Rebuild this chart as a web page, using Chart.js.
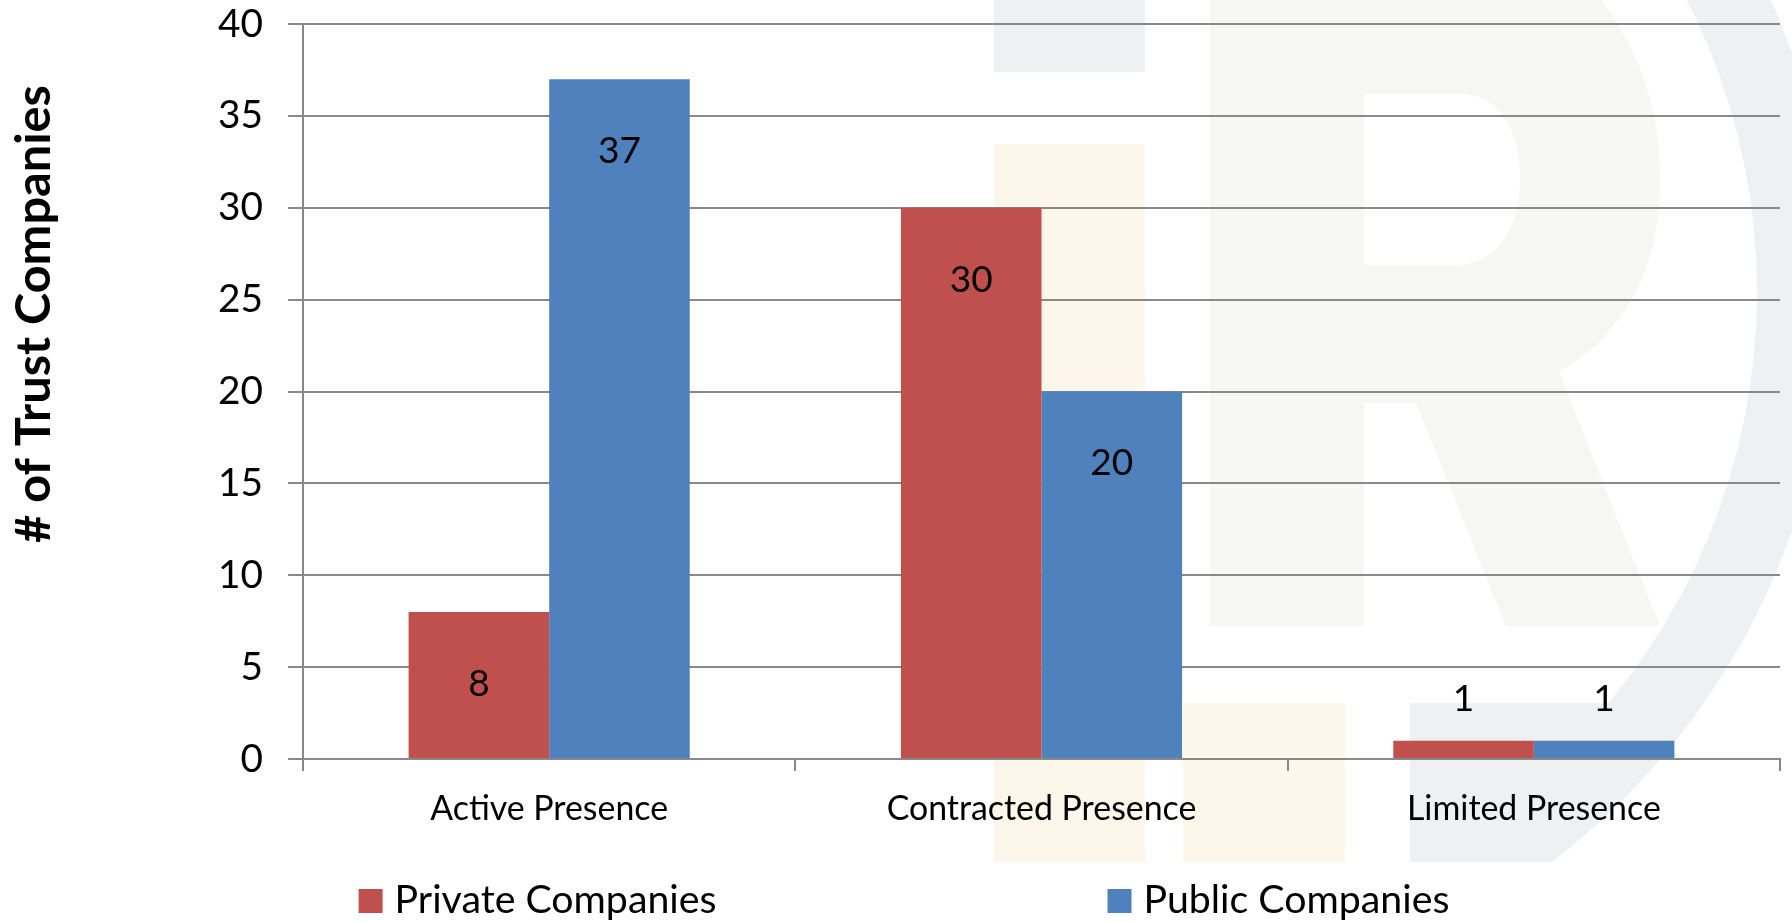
<!DOCTYPE html>
<html><head><meta charset="utf-8">
<script src="https://cdn.jsdelivr.net/npm/chart.js@4/dist/chart.umd.min.js"></script>
<style>html,body{margin:0;padding:0;background:#fff;} canvas{display:block;}</style>
</head><body>
<canvas id="c" width="1792" height="922"></canvas>
<script>
// ---- data ----
const categories = ['Active Presence', 'Contracted Presence', 'Limited Presence'];
const privateCompanies = [8, 30, 1];
const publicCompanies = [37, 20, 1];
const seriesNames = ['Private Companies', 'Public Companies'];
const yTickValues = [0, 5, 10, 15, 20, 25, 30, 35, 40];
const yTitle = '# of Trust Companies';

// ---- styles ----
const FAMILY = 'Lato, "Open Sans", sans-serif';
const RED = '#C0504D', BLUE = '#4F81BD', GRID = '#898989';
const mctx = document.createElement('canvas').getContext('2d');
function fit(text, target, weight) {
  mctx.font = (weight || 'normal') + ' 100px ' + FAMILY;
  return 100 * target / mctx.measureText(text).width;
}
const tickSize = fit('40', 45);
const catSize = fit('Active Presence', 238);
const legendSize = fit('Private Companies', 322);
const titleSize = fit(yTitle, 458, 'bold');
const valueSize = fit('37', 43);

const watermark = {
  id: 'watermark',
  beforeDraw(chart) {
    const ctx = chart.ctx;
    ctx.save();
    ctx.fillStyle = '#ffffff';
    ctx.fillRect(0, 0, chart.width, chart.height);
    // R letter
    ctx.fillStyle = '#f6f6f5';
    ctx.beginPath();
    ctx.moveTo(1210, 0); ctx.lineTo(1602, 0);
    ctx.bezierCurveTo(1645, 60, 1662, 120, 1660, 190);
    ctx.bezierCurveTo(1658, 280, 1615, 340, 1559, 372);
    ctx.lineTo(1660, 626); ctx.lineTo(1506, 626); ctx.lineTo(1416, 403);
    ctx.lineTo(1364, 403); ctx.lineTo(1364, 626); ctx.lineTo(1210, 626); ctx.closePath();
    ctx.moveTo(1364, 94); ctx.lineTo(1460, 94);
    ctx.bezierCurveTo(1500, 94, 1520, 130, 1520, 178);
    ctx.bezierCurveTo(1520, 230, 1495, 265, 1455, 265);
    ctx.lineTo(1364, 265); ctx.closePath();
    ctx.fill('evenodd');
    // gray ring
    ctx.fillStyle = '#eff0f2';
    ctx.save();
    ctx.beginPath(); ctx.rect(1400, 0, 400, 862); ctx.clip();
    ctx.beginPath();
    ctx.arc(1115, 292, 718, 0, Math.PI * 2, false);
    ctx.arc(1115, 292, 642, 0, Math.PI * 2, true);
    ctx.fill();
    ctx.restore();
    ctx.save();
    ctx.beginPath(); ctx.rect(1410, 703, 400, 159); ctx.clip();
    ctx.beginPath(); ctx.arc(1115, 292, 718, 0, Math.PI * 2); ctx.fill();
    ctx.restore();
    ctx.fillRect(994, 0, 151, 72);
    // cream blocks
    ctx.fillStyle = '#fdf6ea';
    ctx.fillRect(994, 144, 151, 718);
    ctx.fillRect(1183, 703, 162, 159);
    ctx.restore();
  }
};

const valueLabels = {
  id: 'valueLabels',
  afterDatasetsDraw(chart) {
    const ctx = chart.ctx;
    ctx.save();
    ctx.font = valueSize + 'px ' + FAMILY;
    ctx.fillStyle = '#000';
    ctx.textAlign = 'center';
    ctx.textBaseline = 'middle';
    chart.data.datasets.forEach((ds, i) => {
      chart.getDatasetMeta(i).data.forEach((bar, j) => {
        const h = bar.base - bar.y;
        const cy = h > 100 ? bar.y + 72 : bar.y - 42;
        ctx.fillText(String(ds.data[j]), bar.x, cy);
      });
    });
    ctx.restore();
  }
};

const extras = {
  id: 'extras',
  afterDraw(chart) {
    const ctx = chart.ctx;
    ctx.save();
    // y title
    ctx.save();
    ctx.translate(50, 314);
    ctx.rotate(-Math.PI / 2);
    ctx.font = 'bold ' + titleSize + 'px ' + FAMILY;
    ctx.fillStyle = '#000';
    ctx.textAlign = 'center';
    ctx.textBaseline = 'alphabetic';
    ctx.fillText(yTitle, 0, 0);
    ctx.restore();
    // legend
    ctx.font = legendSize + 'px ' + FAMILY;
    ctx.textAlign = 'left';
    ctx.textBaseline = 'alphabetic';
    const box = 24, gapText = 12, gapItem = 391;
    const dss = chart.data.datasets;
    const widths = dss.map(d => box + gapText + ctx.measureText(d.label).width);
    const total = widths.reduce((a, b) => a + b, 0) + gapItem * (dss.length - 1);
    let x = 904 - total / 2;
    dss.forEach((d, i) => {
      ctx.fillStyle = d.backgroundColor;
      ctx.fillRect(x, 889, box, box);
      ctx.fillStyle = '#000';
      ctx.fillText(d.label, x + box + gapText, 913);
      x += widths[i] + gapItem;
    });
    ctx.restore();
  }
};

new Chart(document.getElementById('c'), {
  type: 'bar',
  data: {
    labels: categories,
    datasets: [
      { label: seriesNames[0], data: privateCompanies, backgroundColor: RED, borderWidth: 0 },
      { label: seriesNames[1], data: publicCompanies, backgroundColor: BLUE, borderWidth: 0 }
    ]
  },
  options: {
    responsive: false,
    animation: false,
    devicePixelRatio: 1,
    layout: { padding: { top: 24, right: 12, bottom: 78, left: 0 } },
    datasets: { bar: { categoryPercentage: 0.571, barPercentage: 1.0 } },
    plugins: { legend: { display: false }, tooltip: { enabled: false } },
    scales: {
      x: {
        grid: { display: true, drawOnChartArea: false, drawTicks: true, tickLength: 12, color: GRID, lineWidth: 2, offset: true },
        border: { display: true, color: GRID, width: 2 },
        ticks: { font: { family: FAMILY, size: catSize }, color: '#000', padding: 18, maxRotation: 0 },
        afterFit: s => { s.height = 85; s.paddingLeft = 0; s.paddingRight = 0; }
      },
      y: {
        min: 0, max: 40,
        afterBuildTicks: s => { s.ticks = yTickValues.map(v => ({ value: v })); },
        grid: { color: GRID, lineWidth: 2, drawTicks: true, tickLength: 15 },
        border: { display: true, color: GRID, width: 2 },
        ticks: { font: { family: FAMILY, size: tickSize }, color: '#000', padding: 25 },
        afterFit: s => { s.width = 303; s.paddingTop = 0; s.paddingBottom = 0; }
      }
    }
  },
  plugins: [watermark, valueLabels, extras]
});
</script>
</body></html>
